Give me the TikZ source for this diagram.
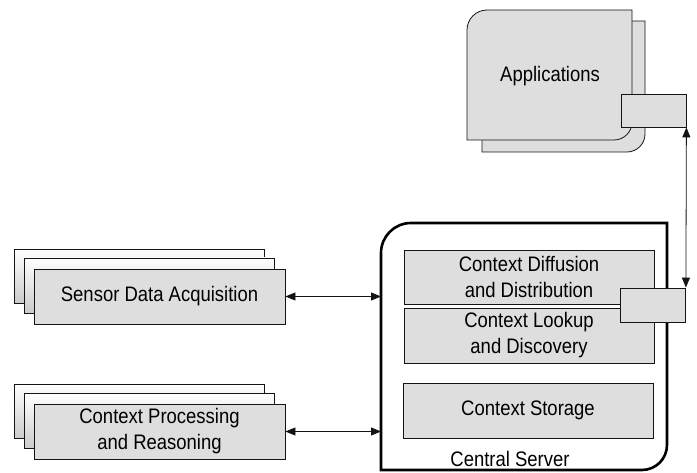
\documentclass[tikz,border=0pt]{standalone}
\usepackage{fontspec}
\setmainfont{Liberation Sans}
\newfontfamily\labelfont[FakeStretch=0.88]{Liberation Sans}
\usetikzlibrary{arrows.meta}
\definecolor{boxfill}{RGB}{222,222,222}
\definecolor{boxline}{RGB}{20,20,20}
\tikzset{
  x=1pt, y=1pt,
  every node/.style={font=\labelfont\fontsize{21}{26}\selectfont, text=black},
  panel/.style={draw=boxline, line width=0.8pt, fill=boxfill},
  backpanel/.style={draw=boxline, line width=0.8pt, top color=white, bottom color=boxfill!80!gray},
  layerbox/.style={panel, rectangle, inner sep=0pt, minimum width=250pt, align=center},
  stackfront/.style={panel, rectangle, inner sep=0pt, minimum width=251pt, minimum height=55pt, align=center},
  portbox/.style={panel, rectangle, inner sep=0pt, minimum width=65pt, minimum height=34pt},
  link/.style={line width=0.8pt, draw=boxline, {Triangle[length=10pt,width=8pt]}-{Triangle[length=10pt,width=8pt]}}
}
\begin{document}
\begin{tikzpicture}
\useasboundingbox (0,0) rectangle (697,472);

% Applications (two stacked rounded sheets)
\draw[panel] (482,320) -- (482,451) -- (645,451) -- (645,338)
  arc[start angle=0, end angle=-90, radius=18] -- cycle;
\draw[panel] (467,332) -- (467,442) arc[start angle=180, end angle=90, radius=20]
  -- (632,462) -- (632,350) arc[start angle=0, end angle=-90, radius=18] -- cycle;
\node (apps) at (550,396) {Applications};
\node[portbox, minimum height=33pt] (appport) at (653.5,361.5) {};

% Central server frame
\draw[line width=2.6pt, draw=black] (381,2) -- (381,219) arc[start angle=180, end angle=90, radius=30]
  -- (667,249) -- (667,27) arc[start angle=0, end angle=-90, radius=25] -- cycle;
\coordinate (srvwest) at (381,0);

\node[layerbox, minimum height=54pt] (diffusion) at (529,195) {Context Diffusion\\and Distribution};
\node[layerbox, minimum height=55pt] (lookup) at (529,136.5) {Context Lookup\\and Discovery};
\node[layerbox, minimum height=55pt] (storage) at (528,61.5) {Context Storage};
\node (srvlabel) at (510,13) {Central Server};

% interface of the server
\draw[boxline, line width=0.8pt] (diffusion.south east) -- ++(-34,0);
\draw[boxline, line width=0.8pt] (lookup.north east) -- ++(-34,0);
\node[portbox] (srvport) at (653,167) {};

% Sensor data acquisition stack
\draw[backpanel] (14,169) rectangle (264,223);
\draw[backpanel] (24,159) rectangle (274,214);
\node[stackfront] (sensor) at (159.5,175.5) {Sensor Data Acquisition};

% Context processing stack
\draw[backpanel] (14,34) rectangle (264,88);
\draw[backpanel] (24,24) rectangle (274,79);
\node[stackfront] (processing) at (159.5,40.5) {Context Processing\\and Reasoning};

% connectors
\draw[link] (sensor.east) -- (sensor.east -| srvwest);
\draw[link] (processing.east) -- (processing.east -| srvwest);
\draw[link] (appport.south east) -- (srvport.north east);
\end{tikzpicture}
\end{document}
